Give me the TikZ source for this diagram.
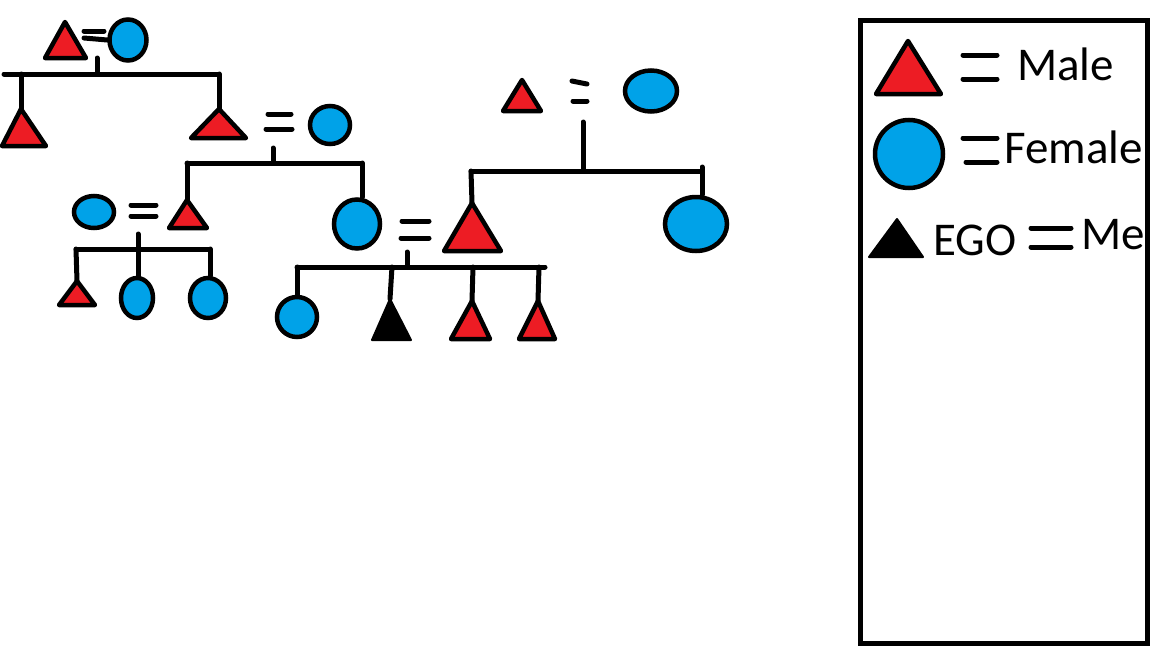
\documentclass[tikz,border=0pt]{standalone}
\usepackage{fontspec}
\setmainfont{Carlito}
\usetikzlibrary{shapes.geometric}
\definecolor{mred}{HTML}{ED1C24}
\definecolor{fblue}{HTML}{00A2E8}
\tikzset{
  ln/.style={line width=5pt, line cap=round},
  male/.style={draw=black, fill=mred, line width=4.5pt, line join=round},
  ego/.style={draw=black, fill=black, line width=2pt, line join=round},
  fem/.style={ellipse, draw=black, fill=fblue, line width=4.5pt, inner sep=0pt},
  lbl/.style={anchor=base west, inner sep=0pt, font=\fontsize{47}{47}\selectfont}
}
\begin{document}
\begin{tikzpicture}[x=1pt,y=-1pt]
\useasboundingbox (0,0) rectangle (1152,648);

% ---------- top-left couple ----------
\coordinate (T1) at (65,22);
\draw[male] (T1) -- (86,58) -- (45,58) -- cycle;
\node[fem, minimum width=37pt, minimum height=41pt] (C1) at (128,40) {};
\draw[ln] (84,31) -- (104,31);
\draw[ln] (84,38) -- (C1.west);
\coordinate (s1) at (97,58);
\coordinate (j1) at (97,74);
\coordinate (b1l) at (21,74);
\coordinate (b1r) at (219,74);
\draw[ln] (s1) -- (j1);
\draw[ln] (4,74) -- (b1r);
\coordinate (T2) at (21,109);
\coordinate (T3) at (219,109);
\draw[ln] (b1l) -- (T2);
\draw[ln] (b1r) -- (T3);
\draw[male] (T2) -- (46,146) -- (2,146) -- cycle;
\draw[male] (T3) -- (246,138) -- (191,138) -- cycle;

% ---------- second couple ----------
\node[fem, minimum width=40pt, minimum height=38pt] (C2) at (330,125) {};
\draw[ln] (268,114) -- (291,114);
\draw[ln] (266,129) -- (292,129);
\coordinate (s2) at (273,148);
\coordinate (j2) at (273,163);
\coordinate (b2l) at (187,163);
\coordinate (b2r) at (362,163);
\draw[ln] (s2) -- (j2);
\draw[ln] (b2l) -- (b2r);
\coordinate (T4) at (187,200);
\draw[ln] (b2l) -- (T4);
\draw[male] (T4) -- (207,228) -- (169,228) -- cycle;
\node[fem, minimum width=46pt, minimum height=49pt] (C3) at (357,224) {};
\draw[ln] (b2r) -- (b2r |- C3.north);

% ---------- left family ----------
\node[fem, minimum width=40pt, minimum height=32pt] (C4) at (94,212) {};
\draw[ln] (131,205) -- (156,205);
\draw[ln] (131,216) -- (156,216);
\coordinate (s3) at (138,234);
\coordinate (j3) at (138,249);
\coordinate (b3l) at (76,249);
\coordinate (b3r) at (210,249);
\draw[ln] (s3) -- (j3);
\draw[ln] (b3l) -- (b3r);
\coordinate (T5) at (77,281);
\draw[ln] (b3l) -- (T5);
\draw[male] (T5) -- (95,305) -- (59,305) -- cycle;
\node[fem, minimum width=32pt, minimum height=40pt] (C5) at (137,298) {};
\node[fem, minimum width=36pt, minimum height=40pt] (C6) at (208,298) {};
\draw[ln] (j3) -- (j3 |- C5.north);
\draw[ln] (b3r) -- (b3r |- C6.north);

% ---------- right couple ----------
\coordinate (T10) at (522,80);
\draw[male] (T10) -- (541,111) -- (503,111) -- cycle;
\draw[ln] (572,81) -- (587,84);
\draw[ln] (573,101) -- (587,101);
\node[fem, minimum width=52pt, minimum height=41pt] (C8) at (651,91) {};
\coordinate (s4) at (583,122);
\coordinate (j4) at (583,171);
\coordinate (b4l) at (471,171);
\coordinate (b4r) at (702,171);
\draw[ln] (s4) -- (j4);
\draw[ln] (b4l) -- (b4r);
\coordinate (T6) at (472,203);
\draw[ln] (b4l) -- (T6);
\draw[male] (T6) -- (501,251) -- (444,251) -- cycle;
\node[fem, minimum width=62pt, minimum height=54pt] (C9) at (696,224) {};
\draw[ln] (702,167) -- (702,167 |- C9.north);

% ---------- centre couple (EGO's parents) ----------
\draw[ln] (402,221) -- (429,221);
\draw[ln] (401,238) -- (429,238);
\coordinate (s5) at (407,252);
\coordinate (j5) at (407,267);
\coordinate (b5l) at (297,267);
\coordinate (b5r) at (545,267);
\draw[ln] (s5) -- (j5);
\draw[ln] (b5l) -- (b5r);
\node[fem, minimum width=40pt, minimum height=40pt] (C7) at (297,317) {};
\draw[ln] (b5l) -- (C7.north);
\coordinate (k7) at (392,267);
\coordinate (T7) at (390,299);
\draw[ln] (k7) -- (T7);
\draw[ego] (T7) -- (411,340) -- (372,340) -- cycle;
\coordinate (k8) at (473,267);
\coordinate (T8) at (472,301);
\draw[ln] (k8) -- (T8);
\draw[male] (T8) -- (490,339) -- (451,339) -- cycle;
\coordinate (k9) at (539,267);
\coordinate (T9) at (538,301);
\draw[ln] (k9) -- (T9);
\draw[male] (T9) -- (555,339) -- (519,339) -- cycle;

% ---------- legend ----------
\node[draw=black, line width=5pt, inner sep=0pt, minimum width=287pt, minimum height=623pt] (box) at (1004,332) {};
\coordinate (LT) at (908,41);
\draw[male] (LT) -- (941,94) -- (876,94) -- cycle;
\draw[ln] (963,55) -- (997,55);
\draw[ln] (963,79) -- (997,79);
\node[lbl] (male) at (1017,80) {Male};
\node[fem, minimum width=68pt, minimum height=68pt] (LC) at (909,154) {};
\draw[ln] (963,138) -- (997,138);
\draw[ln] (966,162) -- (997,162);
\node[lbl] (female) at (1004,163) {Female};
\coordinate (LE) at (897,219);
\draw[ego] (LE) -- (923,257) -- (869,257) -- cycle;
\node[lbl] (egotxt) at (933,255) {EGO};
\draw[ln] (1031,228) -- (1071,228);
\draw[ln] (1031,247) -- (1071,247);
\node[lbl] (me) at (1081,249) {Me};
\end{tikzpicture}
\end{document}
